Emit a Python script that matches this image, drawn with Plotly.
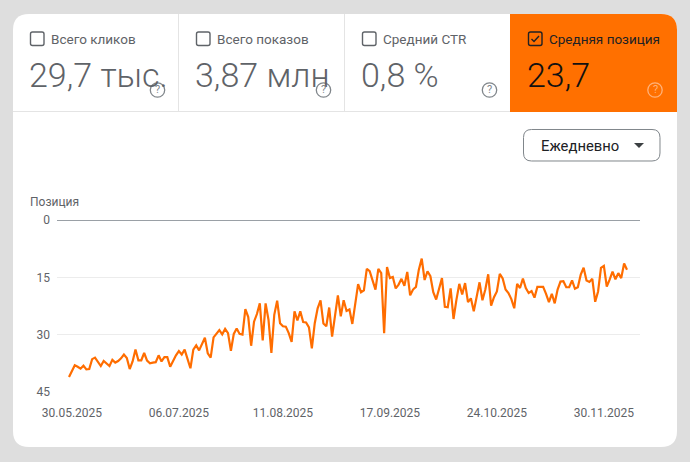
import pandas as pd
import plotly.graph_objects as go

# Daily average position
positions = [
    41.1, 39.3, 38.0, 38.4, 38.9, 38.1, 39.1, 39.0, 36.4, 36.0,
    37.2, 38.2, 36.9, 37.5, 38.2, 36.6, 37.3, 36.9, 36.2, 35.2,
    36.1, 39.0, 37.0, 33.9, 36.7, 36.7, 34.8, 36.8, 37.5, 37.3,
    37.2, 35.4, 37.0, 35.9, 35.9, 38.4, 36.8, 35.4, 34.3, 35.2,
    33.9, 36.7, 38.8, 33.9, 32.8, 34.1, 32.5, 30.8, 34.9, 36.0,
    30.7, 29.6, 28.8, 29.9, 28.5, 29.6,
    34.2, 29.8, 28.4, 29.8, 30.0, 23.3, 25.4, 32.9, 26.6, 24.6,
    21.8, 31.5, 21.8, 26.1, 34.8, 24.8, 21.1, 27.0, 27.8, 27.9,
    29.6, 31.9, 23.9, 26.3, 23.9, 26.7, 26.8, 28.1, 33.6, 27.0,
    23.1, 21.0, 27.1, 27.8, 22.9, 30.5, 25.7, 19.7, 25.2, 21.0,
    23.8, 23.4, 27.2, 21.8, 16.8, 18.9, 18.4, 12.8, 13.4, 15.8,
    18.2, 12.8, 13.9, 29.6, 12.3, 15.2, 14.9, 17.9, 16.9, 15.4,
    17.2, 13.6, 19.7, 18.2, 17.5, 13.0, 10.1, 15.7, 13.4, 14.7,
    18.9, 20.8, 17.8,
    15.2, 22.7, 22.8, 17.9, 25.9, 20.9, 16.7, 19.5, 16.5, 21.5,
    20.5, 23.9, 20.4, 16.3, 21.0, 18.2, 14.2, 22.4, 20.2, 18.7,
    14.1, 15.3, 18.2, 19.1, 20.7, 23.1, 16.7, 17.8, 15.3, 17.8,
    19.1, 18.6, 20.3, 17.5, 17.5, 17.5, 19.3, 21.5, 19.3, 21.8,
    18.2, 16.1, 16.0, 17.6, 17.6, 15.8, 18.0, 17.6, 14.3, 12.5,
    15.8, 16.2, 15.4, 21.4, 18.7, 12.5, 12.0, 17.4, 15.6, 13.5,
    15.5, 13.9, 15.2, 11.4, 13.0,
]
dates = pd.date_range("2025-05-29", periods=len(positions), freq="D")

y_ticks = [0, 15, 30, 45]
x_tick_dates = ["2025-05-30", "2025-07-06", "2025-08-11", "2025-09-17", "2025-10-24", "2025-11-30"]
x_tick_labels = ["30.05.2025", "06.07.2025", "11.08.2025", "17.09.2025", "24.10.2025", "30.11.2025"]

tile_titles = ["Всего кликов", "Всего показов", "Средний CTR", "Средняя позиция"]
tile_values = ["29,7 тыс.", "3,87 млн", "0,8 %", "23,7"]

W, H = 690, 462
ORANGE = "#ff7000"
GREY_TEXT = "#5f6368"
FONT = "Roboto"


def fx(x):
    return x / W


def fy(y):
    return 1 - y / H


# shapes are written in page pixels, converted to paper fractions here
def rounded(x0, y0, x1, y1, tl=0, tr=0, br=0, bl=0):
    p = lambda x, y: f"{fx(x):.5f},{fy(y):.5f}"
    return (
        f"M{p(x0 + tl, y0)} L{p(x1 - tr, y0)} Q{p(x1, y0)} {p(x1, y0 + tr)} "
        f"L{p(x1, y1 - br)} Q{p(x1, y1)} {p(x1 - br, y1)} "
        f"L{p(x0 + bl, y1)} Q{p(x0, y1)} {p(x0, y1 - bl)} "
        f"L{p(x0, y0 + tl)} Q{p(x0, y0)} {p(x0 + tl, y0)} Z"
    )


def shape(d, fill=None, line=None, width=1, layer="below"):
    return dict(
        type="path", xref="paper", yref="paper", path=d, layer=layer,
        fillcolor=fill or "rgba(0,0,0,0)",
        line=dict(color=line or "rgba(0,0,0,0)", width=width),
    )


def text(x, y, s, size, color, anchor="left", weight=400):
    return dict(
        x=fx(x), y=fy(y), xref="paper", yref="paper", text=s, showarrow=False,
        xanchor=anchor, yanchor="middle", align=anchor,
        font=dict(family=FONT, size=size, color=color, weight=weight),
    )


shapes = [
    shape(rounded(13, 14, 677, 447, 16, 16, 16, 16), fill="white"),
    shape(rounded(510, 14, 677, 112, 0, 16, 0, 0), fill=ORANGE),
    shape(f"M{fx(13):.5f},{fy(111.5):.5f} L{fx(510):.5f},{fy(111.5):.5f}", line="#e4e4e4"),
    shape(f"M{fx(178.5):.5f},{fy(14):.5f} L{fx(178.5):.5f},{fy(111):.5f}", line="#e4e4e4"),
    shape(f"M{fx(344.5):.5f},{fy(14):.5f} L{fx(344.5):.5f},{fy(111):.5f}", line="#e4e4e4"),
    shape(rounded(523.5, 129.5, 660, 161, 8, 8, 8, 8), fill="white", line="#80868b"),
    shape(
        f"M{fx(634):.5f},{fy(143):.5f} L{fx(644):.5f},{fy(143):.5f} L{fx(639):.5f},{fy(148):.5f} Z",
        fill="#3c4043",
    ),
]
annotations = [
    text(539, 146, "Ежедневно", 14.8, "#202124"),
    text(28, 202, "Позиция", 12, GREY_TEXT),
]

box_x = [30, 196, 362, 528]
title_x = [48.5, 214.5, 380.5, 546.5]
value_x = [27, 193, 359, 525]
help_x = [157.5, 323.5, 489.5, 655]

for i in range(4):
    active = i == 3
    title_color = "#202124" if active else GREY_TEXT
    box_color = "#202124" if active else "#5f6368"
    x = box_x[i]
    shapes.append(shape(rounded(x + 0.5, 32, x + 14, 45.5, 2, 2, 2, 2), line=box_color, width=1.4))
    if active:
        shapes.append(shape(
            f"M{fx(x + 3.5):.5f},{fy(39):.5f} L{fx(x + 6):.5f},{fy(41.5):.5f} L{fx(x + 11):.5f},{fy(36):.5f}",
            line=box_color, width=1.4,
        ))
    annotations.append(text(title_x[i], 39, tile_titles[i], 13.5, title_color))
    annotations.append(text(value_x[i], 75, tile_values[i], 34, "#111111" if active else GREY_TEXT, weight=300))
    help_color = "#ffb27a" if active else "#80868b"
    cx = help_x[i]
    shapes.append(dict(
        type="circle", xref="paper", yref="paper", layer="above",
        x0=fx(cx - 7.2), x1=fx(cx + 7.2), y0=fy(90 + 7.2), y1=fy(90 - 7.2),
        line=dict(color=help_color, width=1.3),
    ))
    annotations.append(text(cx, 90, "?", 11, help_color, anchor="center"))

fig = go.Figure(go.Scatter(
    x=dates, y=positions, mode="lines",
    line=dict(color="#ff6d00", width=2.2),
    hoverinfo="skip",
))

fig.update_layout(
    width=W, height=H,
    margin=dict(l=0, r=0, t=0, b=0, autoexpand=False),
    paper_bgcolor="#dedede",
    plot_bgcolor="rgba(0,0,0,0)",
    showlegend=False,
    shapes=shapes,
    annotations=annotations,
    font=dict(family=FONT, size=12, color=GREY_TEXT),
    xaxis=dict(
        automargin=False,
        domain=[fx(57), fx(640)],
        range=["2025-05-24 20:24", "2025-12-12 12:00"],
        tickmode="array", tickvals=x_tick_dates, ticktext=x_tick_labels,
        showgrid=False, zeroline=False, showline=False, ticks="",
        ticklabelstandoff=12,
        tickfont=dict(size=12, color=GREY_TEXT),
    ),
    yaxis=dict(
        automargin=False,
        domain=[fy(392), fy(220)],
        range=[45, 0],
        tickmode="array", tickvals=y_ticks,
        showgrid=True, gridcolor="#ececec", gridwidth=1,
        zeroline=True, zerolinecolor="#9aa0a6", zerolinewidth=1,
        showline=False, ticks="",
        ticklabelstandoff=6,
        tickfont=dict(size=12, color=GREY_TEXT),
    ),
)

fig.write_html(
    "out.html",
    config=dict(displayModeBar=False),
    post_script="document.body.style.margin='0';document.body.style.overflow='hidden';",
)
